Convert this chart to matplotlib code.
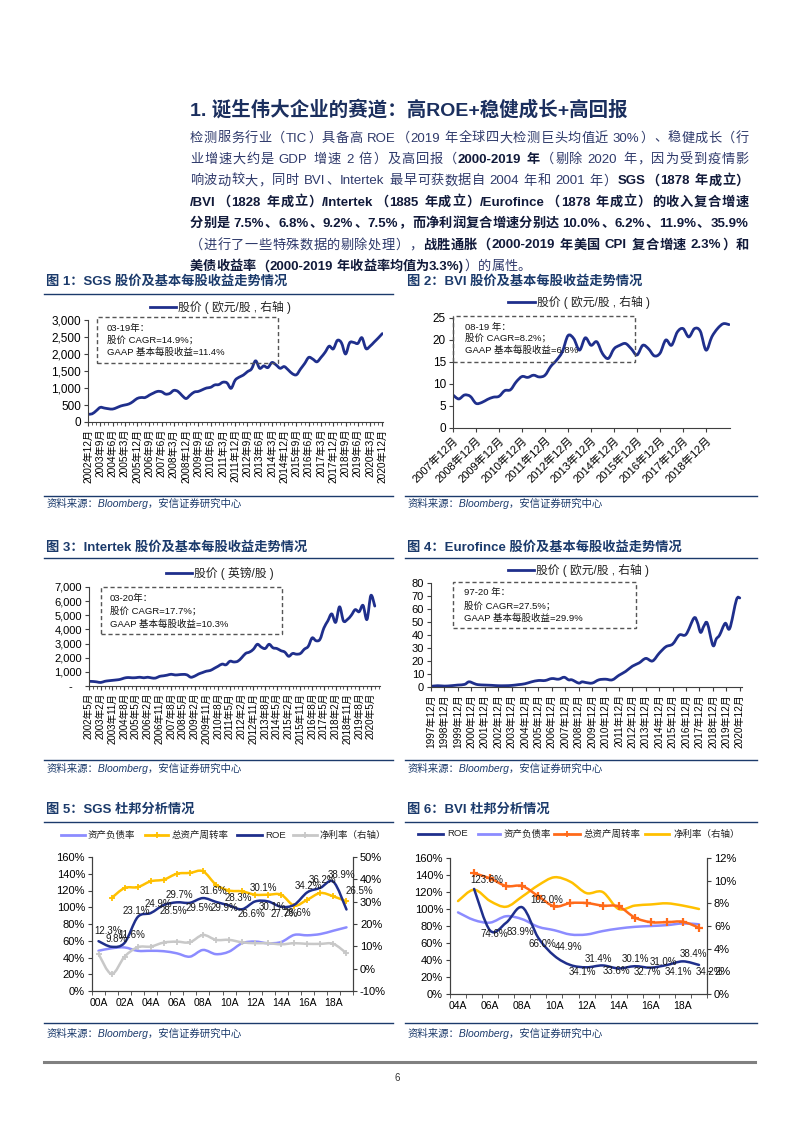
import re
import numpy as np
import matplotlib
matplotlib.use('Agg')
import matplotlib.pyplot as plt
from matplotlib.path import Path
from matplotlib.patches import PathPatch, Rectangle
from matplotlib.lines import Line2D

plt.rcParams['font.family'] = ['Liberation Sans', 'Noto Sans CJK SC']
plt.rcParams['axes.unicode_minus'] = False

W, H = 793, 1122

# ---------------- data ----------------
# 图1 SGS, quarterly from 2002-12
sgs_price = [230, 240, 330, 430, 410, 390, 380, 420, 470, 500, 530, 600, 690,
             720, 720, 790, 850, 900, 890, 820, 840, 930, 900, 780, 690,
             790, 880, 900, 950, 1000, 1020, 1090, 1100, 1170, 1150, 990, 1230,
             1320, 1380, 1480, 1560, 1800, 1580, 1650, 1600, 1750, 1680, 1580, 1630,
             1530, 1420, 1390, 1560, 1720, 1900, 1850, 1770, 1900, 2050, 2230, 2150,
             2400, 2330, 2000, 2330, 2340, 2310, 2480, 2160, 2230, 2350, 2470, 2600]
sgs_labels = ['2002年12月', '2003年9月', '2004年6月', '2005年3月', '2005年12月', '2006年9月',
              '2007年6月', '2008年3月', '2008年12月', '2009年9月', '2010年6月', '2011年3月',
              '2011年12月', '2012年9月', '2013年6月', '2014年3月', '2014年12月', '2015年9月',
              '2016年6月', '2017年3月', '2017年12月', '2018年9月', '2019年6月', '2020年3月',
              '2020年12月']

# 图2 BVI, quarterly from 2007-12
bvi_price = [7.5, 6.6, 7.5, 7.2, 5.6, 5.8, 6.5, 7.0, 7.2, 8.5, 8.7, 10.5, 11.7,
             11.5, 12.0, 11.6, 12.0, 14.0, 15.4, 17.3, 21.0, 20.3, 17.7, 20.5, 18.8,
             19.6, 16.9, 15.8, 18.0, 18.8, 19.2, 18.0, 16.6, 18.8, 18.0, 16.4, 17.0,
             20.0, 18.8, 21.8, 22.6, 20.7, 22.6, 22.0, 17.7, 20.7, 22.6, 23.7, 23.5]
bvi_labels = ['2007年12月', '2008年12月', '2009年12月', '2010年12月', '2011年12月', '2012年12月',
              '2013年12月', '2014年12月', '2015年12月', '2016年12月', '2017年12月', '2018年12月']

# 图3 Intertek, quarterly from 2002-5
itk_price = [330, 320, 290, 250, 330, 370, 400, 430, 470, 560, 600, 580, 590, 620, 580,
             620, 570, 560, 680, 720, 770, 830, 780, 800, 820, 790, 620, 700, 850, 950,
             1050, 1100, 1250, 1400, 1550, 1500, 1750, 1700, 1750, 2000, 2300, 2400, 2600,
             2950, 2750, 2650, 2950, 2700, 2650, 2500, 2400, 2100, 2300, 2250, 2300, 2600,
             2800, 3400, 3200, 3300, 4100, 4600, 5100, 4500, 5600, 4600, 4700, 5000, 5400,
             5250, 5700, 4700, 6400, 5650]
itk_labels = ['2002年5月', '2003年2月', '2003年11月', '2004年8月', '2005年5月', '2006年2月',
              '2006年11月', '2007年8月', '2008年5月', '2009年2月', '2009年11月', '2010年8月',
              '2011年5月', '2012年2月', '2012年11月', '2013年8月', '2014年5月', '2015年2月',
              '2015年11月', '2016年8月', '2017年5月', '2018年2月', '2018年11月', '2019年8月',
              '2020年5月']

# 图4 Eurofins, months after 1997-12
euf_month = [0, 6, 12, 18, 24, 30, 34, 39, 42, 48, 54, 60, 66, 72, 78, 84, 90, 96, 102,
             108, 114, 119, 123, 126, 132, 135, 138, 144, 150, 156, 162, 168, 174, 180,
             186, 192, 198, 204, 210, 216, 222, 228, 235, 238, 241, 244, 247, 252, 255,
             258, 263, 267, 273, 276]
euf_price = [0.5, 1.0, 0.7, 1.0, 1.5, 2.0, 4.0, 2.5, 1.8, 1.5, 1.3, 1.0, 1.0, 1.2, 1.8,
             2.5, 4.0, 5.0, 5.0, 6.5, 6.0, 7.5, 5.5, 5.5, 3.0, 4.0, 3.5, 3.0, 5.5, 6.0,
             5.5, 9.0, 12.0, 16.0, 18.5, 22.0, 20.0, 26.0, 31.0, 33.0, 40.0, 40.5, 53.0,
             50.0, 42.0, 47.0, 49.0, 32.0, 37.0, 40.0, 49.0, 45.0, 67.0, 68.5]
euf_labels = [f'{y}年12月' for y in range(1997, 2021)]

# 图5 SGS 杜邦 2000-2019
sgs_years = ['00A', '02A', '04A', '06A', '08A', '10A', '12A', '14A', '16A', '18A']
sgs_debt = [48, 51, 52, 48, 48, 47.5, 45, 41, 49, 44, 47, 57, 59, 57, 58.5, 67, 66.5, 68, 72, 76]
sgs_turn = [111, 123, 124, 131, 133, 140, 141, 143, 127, 120, 119, 115, 115, 115, 102, 109,
            117, 113, 107]  # from 2001
sgs_roe = [12.3, 9.8, 11.6, 23.1, 24.9, 28.5, 29.7, 29.5, 31.6, 29.9, 28.3, 26.6, 30.1,
           30.1, 27.7, 28.6, 34.2, 36.2, 38.9, 26.5]
sgs_margin = [6.6, -2.4, 5.4, 9.6, 9.9, 11.7, 12.1, 11.8, 15.1, 12.9, 12.9, 11.8, 11.4,
              11.4, 10.9, 11.4, 11.1, 11.1, 11.1, 6.9]

# 图6 BVI 杜邦 2004-2019
bvi_years = ['04A', '06A', '08A', '10A', '12A', '14A', '16A', '18A']
bvi_roe = [123.6, 74.6, 83.9, 102.0, 66.0, 44.9, 34.1, 31.4, 33.6, 30.1, 32.7, 31.0,
           34.1, 38.4, 34.2]  # from 2005
bvi_debt = [96, 87, 84, 91.5, 88, 79, 75, 70, 70, 74, 77, 79, 80, 81, 83, 82]
bvi_turn = [142, 136, 127, 127, 115, 103, 107, 107, 104, 103, 90, 84.5, 84.5, 85, 78]  # from 2005
bvi_margin = [8.2, 9.2, 8.2, 7.7, 8.6, 9.6, 10.3, 9.9, 8.9, 9.0, 7.5, 7.8, 7.9, 8.0, 7.8, 7.5]

# label offsets (points)
sgs_lab_off = [(30, -31), (14, -23), (21, -23), (-3, -17), (23, -28), (28, 19), (9, -23),
               (30, 16), (31, -20), (26, 19), (27, -22), (28, 14), (25, -40), (14, 17),
               (10, 21), (10, 25), (4, -18), (7, -22), (23, -21), (38, -54)]
bvi_lab_off = [(38, -26), (12, 9), (42, 27), (74, -21), (11, 17), (43, -27), (35, 20),
               (37, -25), (43, 16), (50, -27), (37, 17), (39, -18), (36, 20), (33, -21), (30, 20)]

NAVY = '#1F2F8C'
TITLE = '#1B3A6B'
AXC = '#404040'
LBLUE = '#8C8CFF'
GOLD = '#FFC000'
GRAY = '#C8C8C8'
ORANGE = '#FF6A1A'

fig = plt.figure(figsize=(W / 100, H / 100), dpi=100)
r = fig.canvas.get_renderer()


def fx(x):
    return x / W


def fy(y):
    return 1 - y / H


def add_ax(l, t, rr, b):
    return fig.add_axes([fx(l), fy(b), (rr - l) / W, (b - t) / H])


def smooth(ax, x, y, **kw):
    pts = np.column_stack([x, y]).astype(float)
    n = len(pts)
    verts, codes = [pts[0]], [Path.MOVETO]
    for i in range(n - 1):
        p0 = pts[max(i - 1, 0)]
        p3 = pts[min(i + 2, n - 1)]
        verts += [pts[i] + (pts[i + 1] - p0) / 6, pts[i + 1] - (p3 - pts[i]) / 6, pts[i + 1]]
        codes += [Path.CURVE4] * 3
    ax.add_patch(PathPatch(Path(verts, codes), fill=False, capstyle='round',
                           joinstyle='round', **kw))


def fline(x0, x1, y, color, lw=1.0, **kw):
    fig.add_artist(Line2D([fx(x0), fx(x1)], [fy(y), fy(y)], color=color, lw=lw,
                          transform=fig.transFigure, **kw))


def ftext(x, y, s, **kw):
    return fig.text(fx(x), fy(y), s, **kw)


# ---------------- text block ----------------
ftext(190, 110, '1. 诞生伟大企业的赛道：高ROE+稳健成长+高回报', fontsize=14,
      fontweight='bold', color='#1B2F5E', va='center')

body = [
    [('检测服务行业（TIC）具备高 ROE（2019 年全球四大检测巨头均值近 30%）、稳健成长（行', 0)],
    [('业增速大约是 GDP 增速 2 倍）及高回报（', 0), ('2000-2019 年', 1), ('（剔除 2020 年，因为受到疫情影', 0)],
    [('响波动较大，同时 BVI、Intertek 最早可获数据自 2004 年和 2001 年）', 0), ('SGS（1878 年成立）', 1)],
    [('/BVI（1828 年成立）/Intertek（1885 年成立）/Eurofince（1878 年成立）的收入复合增速', 1)],
    [('分别是 7.5%、6.8%、9.2%、7.5%，而净利润复合增速分别达 10.0%、6.2%、11.9%、35.9%', 1)],
    [('（进行了一些特殊数据的剔除处理），', 0), ('战胜通胀（2000-2019 年美国 CPI 复合增速 2.3%）和', 1)],
    [('美债收益率（2000-2019 年收益率均值为3.3%)', 1), ('）的属性。', 0)],
]


def body_line(y, segs, x0, x1, size, justify):
    em = size * 100 / 72
    items = []
    for s, bold in segs:
        kw = dict(fontsize=size, fontweight='bold' if bold else 'normal',
                  color='#111A3A' if bold else '#2F3A6B', va='center')
        for tok in re.findall(r'[A-Za-z0-9.%\-/=+()]+| |.', s):
            if tok == ' ':
                items.append((None, em * 0.25, False))
            elif ord(tok[0]) > 0x2E80:
                t = ftext(0, y, tok, ha='center', **kw)
                items.append((t, em, True))
            else:
                t = ftext(0, y, tok, ha='left', **kw)
                items.append((t, t.get_window_extent(r).width + em * 0.06, False))
    total = sum(w for _, w, _ in items)
    gap = (x1 - x0 - total) / (len(items) - 1) if justify else 0
    x = x0
    for t, w, cjk in items:
        if t is not None:
            t.set_x(fx(x + w / 2) if cjk else fx(x))
        x += w + gap


for i, segs in enumerate(body):
    body_line(138.5 + 21.4 * i, segs, 190, 749, 9.5, i < len(body) - 1)

# ---------------- frames: titles / sources ----------------
titles = [('图 1：SGS 股价及基本每股收益走势情况', 46, 282),
          ('图 2：BVI 股价及基本每股收益走势情况', 407, 282),
          ('图 3：Intertek 股价及基本每股收益走势情况', 46, 547),
          ('图 4：Eurofince 股价及基本每股收益走势情况', 407, 547),
          ('图 5：SGS 杜邦分析情况', 46, 810),
          ('图 6：BVI 杜邦分析情况', 407, 810)]
for s, x, y in titles:
    ftext(x, y, s, fontsize=9.5, fontweight='bold', color=TITLE, va='center')
fline(44, 393, 294, TITLE, 1.0)
for y in (557.5, 821.5):
    fline(44, 393, y, TITLE, 1.0)
    fline(405, 757, y, TITLE, 1.0)
for ly, ty in ((496, 503), (760, 768), (1023, 1033)):
    for x0, x1 in ((44, 393), (405, 757)):
        fline(x0, x1, ly, TITLE, 1.0)
        ftext(x0 + 3, ty, '资料来源：Bloomberg，安信证券研究中心', fontsize=7.5, style='italic',
              color=TITLE, va='center')
fline(44, 755, 1062, '#808080', 2.2)
ftext(397, 1078, '6', fontsize=7, ha='center', va='center', color='#333333')


# ---------------- price charts ----------------
def price_chart(box, x, y, xlim, ylim, yticks, yticklabels, xticks, xticklabels,
                rot, xsize, ysize, minor=None):
    ax = add_ax(*box)
    smooth(ax, x, y, ec=NAVY, lw=2.0)
    ax.set_xlim(xlim)
    ax.set_ylim(ylim)
    ax.set_yticks(yticks)
    ax.set_yticklabels(yticklabels, fontsize=ysize)
    ax.set_xticks(xticks)
    if rot == 90:
        ax.set_xticklabels(xticklabels, rotation=90, fontsize=xsize)
    else:
        ax.set_xticklabels(xticklabels, rotation=45, fontsize=xsize, ha='right',
                           va='top', rotation_mode='anchor')
    if minor is not None:
        ax.set_xticks(minor, minor=True)
    for s in ('top', 'right'):
        ax.spines[s].set_visible(False)
    for s in ('left', 'bottom'):
        ax.spines[s].set_color(AXC)
        ax.spines[s].set_linewidth(0.8)
    ax.tick_params(which='major', length=3, width=0.8, color=AXC, pad=2)
    ax.tick_params(which='minor', length=2, width=0.6, color=AXC)
    ax.patch.set_alpha(0)
    return ax


def legend_price(x0, x1, y, label):
    fline(x0, x1, y, NAVY, 2.0)
    ftext(x1 + 2, y, label, fontsize=8.5, va='center', color='#222222')


def note_box(l, t, rr, b, tx, ys, lines):
    fig.add_artist(Rectangle((fx(l), fy(b)), (rr - l) / W, (b - t) / H, fill=False,
                             ec='#555555', lw=1.0, ls=(0, (3, 2)), transform=fig.transFigure))
    for yy, s in zip(ys, lines):
        ftext(tx, yy, s, fontsize=6.8, va='center', color='#111111')


m3 = np.arange(len(sgs_price)) * 3
price_chart((88, 320, 383, 422), m3, sgs_price, (0, 216.5), (0, 3000),
            np.arange(0, 3001, 500), ['0', '500', '1,000', '1,500', '2,000', '2,500', '3,000'],
            np.arange(0, 217, 9), sgs_labels, 90, 7.3, 8.5, minor=np.arange(0, 217, 3))
legend_price(150, 176, 307, '股价 ( 欧元/股 , 右轴 )')
note_box(97, 317, 278, 363, 107, (328, 340, 352),
         ['03-19年：', '股价 CAGR=14.9%；', 'GAAP 基本每股收益=11.4%'])

mb = np.arange(len(bvi_price)) * 3
price_chart((453, 318, 730, 428), mb, bvi_price, (0, 144.5), (0, 25),
            np.arange(0, 26, 5), ['0', '5', '10', '15', '20', '25'],
            np.arange(0, 133, 12), bvi_labels, 45, 8, 8.5)
legend_price(508, 535, 302, '股价 ( 欧元/股 , 右轴 )')
note_box(453, 316, 635, 362, 465, (327, 338, 350),
         ['08-19 年：', '股价 CAGR=8.2%；', 'GAAP 基本每股收益=6.8%'])

mi = np.arange(len(itk_price)) * 3
price_chart((89, 587, 380, 686), mi, itk_price, (0, 223), (0, 7000),
            np.arange(0, 7001, 1000),
            ['-   ', '1,000', '2,000', '3,000', '4,000', '5,000', '6,000', '7,000'],
            np.arange(0, 217, 9), itk_labels, 90, 7, 8, minor=np.arange(0, 223, 3))
legend_price(166, 192, 573, '股价 ( 英镑/股 )')
note_box(101, 587, 282, 634, 110, (598, 611, 624),
         ['03-20年：', '股价 CAGR=17.7%；', 'GAAP 基本每股收益=10.3%'])

price_chart((431, 583, 742, 687), euf_month, euf_price, (0, 278), (0, 80),
            np.arange(0, 81, 10), [str(v) for v in range(0, 81, 10)],
            np.arange(0, 277, 12), euf_labels, 90, 7.2, 8)
legend_price(508, 534, 570, '股价 ( 欧元/股 , 右轴 )')
note_box(453, 582, 636, 628, 464, (593, 606, 618),
         ['97-20 年：', '股价 CAGR=27.5%；', 'GAAP 基本每股收益=29.9%'])


# ---------------- dupont charts ----------------
def dupont_axes(box, n, ticklabels, rlim, rticks):
    ax = add_ax(*box)
    ax2 = ax.twinx()
    ax.set_xlim(-0.5, n - 0.5)
    ax.set_ylim(0, 160)
    ax.set_yticks(np.arange(0, 161, 20))
    ax.set_yticklabels([f'{v}%' for v in range(0, 161, 20)], fontsize=8)
    ax.set_xticks(np.arange(0, n, 2))
    ax.set_xticklabels(ticklabels, fontsize=7.5)
    ax.set_xticks(np.arange(-0.5, n, 1), minor=True)
    ax2.set_ylim(*rlim)
    ax2.set_yticks(rticks)
    ax2.set_yticklabels([f'{v}%' for v in rticks], fontsize=8)
    for a in (ax, ax2):
        a.spines['top'].set_visible(False)
        for s in ('left', 'right', 'bottom'):
            a.spines[s].set_color(AXC)
            a.spines[s].set_linewidth(0.8)
        a.patch.set_alpha(0)
    ax.tick_params(axis='x', which='major', length=0, pad=5)
    ax.tick_params(axis='x', which='minor', length=3, color=AXC)
    ax.tick_params(axis='y', length=3, color=AXC, pad=2)
    ax2.tick_params(axis='y', length=3, color=AXC, pad=2)
    return ax, ax2


def legend_item(x0, x1, y, color, label, tx, marker=None, size=6.8):
    fline(x0, x1, y, color, 2.0)
    if marker:
        fig.add_artist(Line2D([fx((x0 + x1) / 2)], [fy(y)], marker=marker, ms=5, mew=1.3,
                              color=color, transform=fig.transFigure))
    ftext(tx, y, label, fontsize=size, va='center', color='#222222')


def roe_labels(ax, x, vals, offs):
    for xi, v, (dx, dy) in zip(x, vals, offs):
        ax.annotate(f'{v:.1f}%', (xi, v), xytext=(dx * 0.24, -dy * 0.24),
                    textcoords='offset points', ha='center', va='center',
                    fontsize=7, color='#1A1A1A')


# 图5
x5 = np.arange(len(sgs_roe))
ax, ax2 = dupont_axes((92, 857, 353, 991), 20, sgs_years, (-10, 50), list(range(-10, 51, 10)))
smooth(ax, x5, sgs_debt, ec=LBLUE, lw=1.8)
smooth(ax, x5[1:], sgs_turn, ec=GOLD, lw=1.8)
ax.plot(x5[1:], sgs_turn, ls='none', marker='+', ms=5, mew=1.3, color=GOLD)
smooth(ax2, x5, sgs_margin, ec=GRAY, lw=1.8)
ax2.plot(x5, sgs_margin, ls='none', marker='+', ms=5, mew=1.3, color=GRAY)
smooth(ax2, x5, sgs_roe, ec=NAVY, lw=1.8)
roe_labels(ax2, x5, sgs_roe, sgs_lab_off)
legend_item(61, 85, 835, LBLUE, '资产负债率', 88)
legend_item(145, 168, 835, GOLD, '总资产周转率', 172, marker='+')
legend_item(237, 262, 835, NAVY, 'ROE', 265)
legend_item(293, 317, 835, GRAY, '净利率（右轴）', 320, marker='+')

# 图6
x6 = np.arange(len(bvi_debt))
ax, ax2 = dupont_axes((450, 858, 707, 994), 16, bvi_years, (0, 12), list(range(0, 13, 2)))
smooth(ax, x6, bvi_debt, ec=LBLUE, lw=1.8)
smooth(ax, x6[1:], bvi_turn, ec=ORANGE, lw=1.8)
ax.plot(x6[1:], bvi_turn, ls='none', marker='+', ms=6, mew=1.6, color=ORANGE)
smooth(ax2, x6, bvi_margin, ec=GOLD, lw=1.8)
smooth(ax, x6[1:], bvi_roe, ec=NAVY, lw=1.8)
roe_labels(ax, x6[1:], bvi_roe, bvi_lab_off)
ax.set_zorder(ax2.get_zorder() + 1)
legend_item(418, 443, 834, NAVY, 'ROE', 447)
legend_item(478, 500, 834, LBLUE, '资产负债率', 503)
legend_item(554, 580, 834, ORANGE, '总资产周转率', 584, marker='+')
legend_item(645, 669, 834, GOLD, '净利率（右轴）', 674)

fig.savefig('out.png', dpi=100, facecolor='white')
